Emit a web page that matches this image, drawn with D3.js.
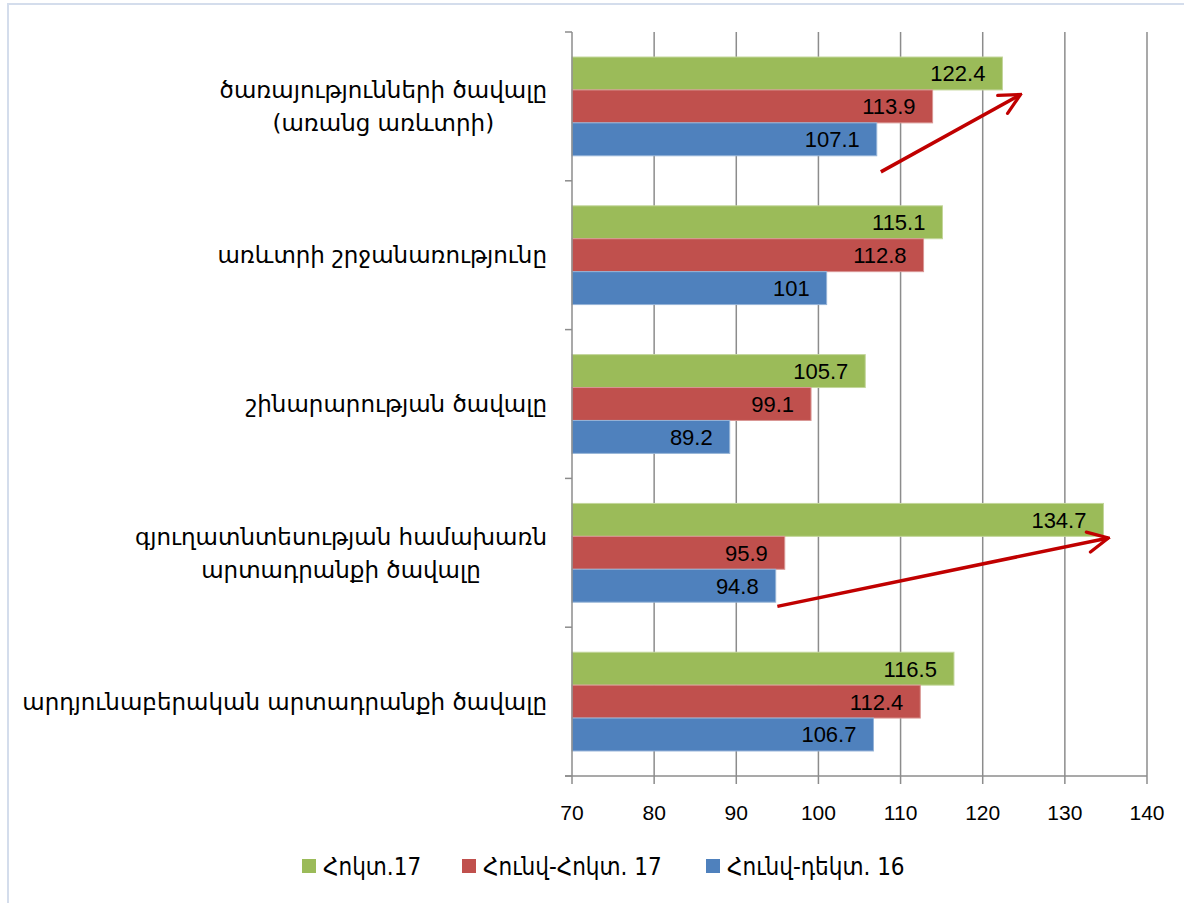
<!DOCTYPE html>
<html>
<head>
<meta charset="utf-8">
<script src="https://cdn.jsdelivr.net/npm/d3@7"></script>
<style>
  body { margin: 0; background: #fff; }
  svg { display: block; }
</style>
</head>
<body>
<div id="chart"></div>
<script>
// categories top to bottom, each label split in lines
const categories = [
  ["ծառայությունների ծավալը", "(առանց առևտրի)"],
  ["առևտրի շրջանառությունը"],
  ["շինարարության ծավալը"],
  ["գյուղատնտեսության համախառն", "արտադրանքի ծավալը"],
  ["արդյունաբերական արտադրանքի ծավալը"]
];
const seriesNames = ["Հոկտ.17", "Հունվ-Հոկտ. 17", "Հունվ-դեկտ. 16"];
const octValues = [122.4, 115.1, 105.7, 134.7, 116.5];
const janOctValues = [113.9, 112.8, 99.1, 95.9, 112.4];
const janDecValues = [107.1, 101, 89.2, 94.8, 106.7];
const xTicks = [70, 80, 90, 100, 110, 120, 130, 140];
// arrows: [x value, category index, position inside band (0..1)] for start and end
const arrowStart = [[107.6, 0, 0.94], [95.0, 3, 0.86]];
const arrowEnd = [[124.6, 0, 0.42], [135.3, 3, 0.40]];

const colors = ["#9BBB59", "#C0504D", "#4F81BD"];
const edge = ["#C3D69B", "#D99694", "#95B3D7"];
const allValues = [octValues, janOctValues, janDecValues];

const width = 1184, height = 903;
const svg = d3.select("#chart").append("svg")
  .attr("width", width)
  .attr("height", height);

// chart frame
svg.append("rect")
  .attr("x", 8).attr("y", 4)
  .attr("width", width + 10).attr("height", height + 10)
  .attr("fill", "none")
  .attr("stroke", "#D4DDEC")
  .attr("stroke-width", 2);

const x = d3.scaleLinear().domain([70, 140]).range([572, 1147]);
const catIdx = d3.range(categories.length);
const y0 = d3.scaleBand().domain(catIdx).range([32, 776]);
const y1 = d3.scaleBand().domain(d3.range(3)).range([0, y0.bandwidth()]).paddingOuter(0.76);

// gridlines
svg.append("g")
  .selectAll("line")
  .data(xTicks.slice(1))
  .join("line")
  .attr("x1", d => x(d)).attr("x2", d => x(d))
  .attr("y1", 32).attr("y2", 784)
  .attr("stroke", "#8C8C8C")
  .attr("stroke-width", 1.5);

// bars
const groups = svg.append("g")
  .selectAll("g")
  .data(catIdx)
  .join("g")
  .attr("transform", i => `translate(0,${y0(i)})`);

groups.selectAll("rect")
  .data(i => allValues.map((vals, s) => ({s: s, v: vals[i]})))
  .join("rect")
  .attr("x", x(70))
  .attr("y", d => y1(d.s))
  .attr("width", d => x(d.v) - x(70))
  .attr("height", y1.bandwidth())
  .attr("fill", d => colors[d.s])
  .attr("stroke", d => edge[d.s])
  .attr("stroke-width", 1);

groups.selectAll("text")
  .data(i => allValues.map((vals, s) => ({s: s, v: vals[i]})))
  .join("text")
  .attr("x", d => x(d.v) - 17)
  .attr("y", d => y1(d.s) + y1.bandwidth() / 2)
  .attr("dy", "0.36em")
  .attr("text-anchor", "end")
  .attr("font-family", "'Liberation Sans', Arial, sans-serif")
  .attr("font-size", 22)
  .attr("fill", "#000")
  .text(d => d.v);

// axes lines
svg.append("line")
  .attr("x1", 565).attr("x2", x(140))
  .attr("y1", 776).attr("y2", 776)
  .attr("stroke", "#8C8C8C").attr("stroke-width", 1.5);
svg.append("line")
  .attr("x1", x(70)).attr("x2", x(70))
  .attr("y1", 32).attr("y2", 784)
  .attr("stroke", "#8C8C8C").attr("stroke-width", 1.5);

// category ticks
svg.append("g")
  .selectAll("line")
  .data(catIdx.concat([categories.length]))
  .join("line")
  .attr("x1", 565).attr("x2", x(70))
  .attr("y1", i => i < categories.length ? y0(i) : 776)
  .attr("y2", i => i < categories.length ? y0(i) : 776)
  .attr("stroke", "#8C8C8C").attr("stroke-width", 1.5);

// x tick labels
svg.append("g")
  .selectAll("text")
  .data(xTicks)
  .join("text")
  .attr("x", d => x(d))
  .attr("y", 812)
  .attr("dy", "0.36em")
  .attr("text-anchor", "middle")
  .attr("font-family", "'Liberation Sans', Arial, sans-serif")
  .attr("font-size", 21)
  .text(d => d);

// category labels
const catLabels = svg.append("g")
  .selectAll("text")
  .data(catIdx)
  .join("text")
  .attr("text-anchor", "middle")
  .attr("font-family", "'DejaVu Sans', sans-serif")
  .attr("font-size", 23)
  .attr("fill", "#000");

catLabels.each(function (i) {
  const lines = categories[i];
  const cy = y0(i) + y0.bandwidth() / 2;
  const t = d3.select(this);
  lines.forEach((ln, k) => {
    t.append("tspan")
      .attr("x", 0)
      .attr("y", cy + (k - (lines.length - 1) / 2) * 33)
      .attr("dy", "0.36em")
      .text(ln);
  });
  // right edge of the widest line at 547
  const w = d3.max(t.selectAll("tspan").nodes(), n => n.getComputedTextLength());
  t.selectAll("tspan").attr("x", 547 - w / 2);
});

// arrows
const defs = svg.append("defs");
defs.append("marker")
  .attr("id", "arrow")
  .attr("viewBox", "0 0 12 12")
  .attr("refX", 11).attr("refY", 6)
  .attr("markerWidth", 7).attr("markerHeight", 7)
  .attr("markerUnits", "strokeWidth")
  .attr("orient", "auto")
  .append("path")
  .attr("d", "M1,1 L11,6 L1,11")
  .attr("fill", "none")
  .attr("stroke", "#C00000")
  .attr("stroke-width", 1.6)
  .attr("stroke-linecap", "round");

svg.append("g")
  .selectAll("line")
  .data(d3.range(arrowStart.length))
  .join("line")
  .attr("x1", k => x(arrowStart[k][0]))
  .attr("y1", k => y0(arrowStart[k][1]) + arrowStart[k][2] * y0.bandwidth())
  .attr("x2", k => x(arrowEnd[k][0]))
  .attr("y2", k => y0(arrowEnd[k][1]) + arrowEnd[k][2] * y0.bandwidth())
  .attr("stroke", "#C00000")
  .attr("stroke-width", 3.5)
  .attr("marker-end", "url(#arrow)");

// legend
const legendX = [302, 462, 706];
const legend = svg.append("g")
  .selectAll("g")
  .data(seriesNames)
  .join("g")
  .attr("transform", (d, i) => `translate(${legendX[i]},866)`);
legend.append("rect")
  .attr("x", 0).attr("y", -7)
  .attr("width", 14).attr("height", 14)
  .attr("fill", (d, i) => colors[i]);
legend.append("text")
  .attr("x", 21)
  .attr("dy", "0.36em")
  .attr("font-family", "'DejaVu Sans Condensed', 'DejaVu Sans', sans-serif")
  .attr("font-size", 24)
  .text(d => d);
</script>
</body>
</html>
